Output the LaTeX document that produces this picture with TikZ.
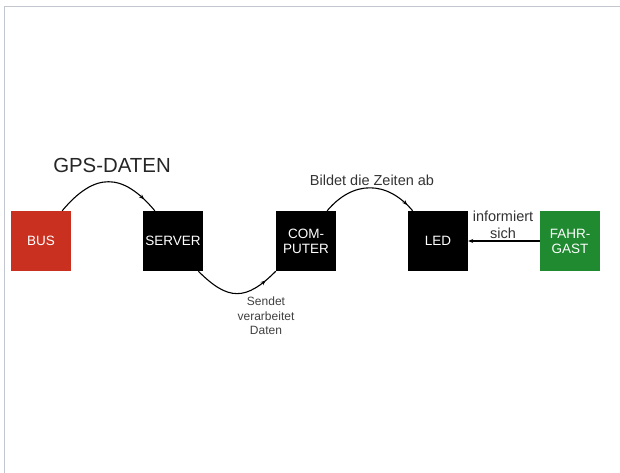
\documentclass[tikz,border=0pt]{standalone}
\usepackage{fontspec}
\setmainfont{Liberation Sans}
\usepackage{xcolor}
\usetikzlibrary{arrows.meta, decorations.markings}

\definecolor{busred}{HTML}{C9301F}
\definecolor{gastgreen}{HTML}{1F8A30}
\definecolor{framegray}{HTML}{C2C6CE}

\begin{document}
\begin{tikzpicture}[
  x=1pt, y=1pt,
  >={Stealth[length=5pt, width=4pt]},
  stepbox/.style={minimum width=60pt, minimum height=60pt, inner sep=0pt,
    align=center, font=\fontsize{13.5}{15}\selectfont, text=white},
  tiparrow/.style={line width=1.1pt, postaction={decorate},
    decoration={markings, mark=at position #1 with {\arrow{>}}}},
  lbl/.style={align=center, font=\fontsize{14.5}{17.5}\selectfont, text=black!80}
]
\useasboundingbox (0,0) rectangle (620,-473);
\draw[framegray, line width=1pt] (4,-473) -- (4,-7) -- (620,-7);

\node[stepbox, fill=busred] (bus) at (41,-241) {BUS};
\node[stepbox, fill=black] (server) at (173,-241) {SERVER};
\node[stepbox, fill=black] (computer) at (306,-241) {COM-\\PUTER};
\node[stepbox, fill=black] (led) at (438,-241) {LED};
\node[stepbox, fill=gastgreen] (gast) at (570,-241) {FAHR-\\GAST};

\draw[tiparrow=0.86] (bus.55) to[out=50, in=130, looseness=1.4] (server.121);
\node[font=\fontsize{20.4}{24}\selectfont, text=black!85] (gpslbl) at (112,-165) {GPS-DATEN};

\draw[tiparrow=0.85] (server.-50) to[out=-45, in=-135, looseness=1.4] (computer.-135);
\node[lbl, font=\fontsize{12}{14.5}\selectfont, text=black!75] (sendlbl) at (266,-316) {Sendet\\verarbeitet\\Daten};

\draw[tiparrow=0.92] (computer.55) to[out=50, in=130, looseness=1.2] (led.130);
\node[lbl] (bildlbl) at (372,-180) {Bildet die Zeiten ab};

\draw[->, line width=1.1pt] (gast) -- (led);
\node[lbl] (infolbl) at (503,-225) {informiert\\sich};
\end{tikzpicture}
\end{document}
